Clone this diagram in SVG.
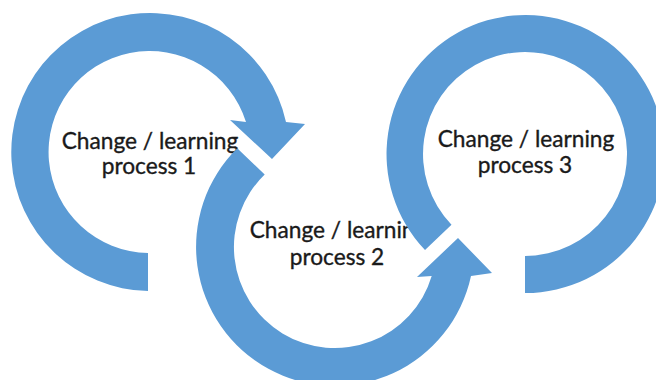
<svg xmlns="http://www.w3.org/2000/svg" width="656" height="380" viewBox="0 0 656 380">
<style>
.band{fill:#5B9BD5;stroke:none}
.lbl{font-family:Lato,"Liberation Sans",sans-serif;font-size:22.7px;fill:#1a1a1a;stroke:#1a1a1a;stroke-width:0.35;text-anchor:middle}
</style>
<defs>
<clipPath id="clip2"><rect x="0" y="0" width="410" height="380"/></clipPath>
</defs>
<rect width="656" height="380" fill="#ffffff"/>
<g id="node1">
<path class="band" d="M148,291 A139,139 0 1 1 286,122 L305,124 L272,159 L230,120 L246,122 A101,101 0 1 0 148,253 Z"/>
<text class="lbl" x="150" y="148.5">Change / learning</text>
<text class="lbl" x="149" y="174">process 1</text>
</g>
<g id="node2">
<path class="band" d="M237.2,148.2 A139,139 0 1 0 471,276 L492,273 L458,238 L417,277 L431.7,276 A101,101 0 1 1 264.7,174.5 Z"/>
<g clip-path="url(#clip2)">
<text class="lbl" x="338" y="238">Change / learning</text>
</g>
<text class="lbl" x="337" y="265">process 2</text>
</g>
<g id="node3">
<path class="band" d="M525,293 A139,139 0 1 0 425,250 L451.5,224.7 A102,102 0 1 1 525,256 Z"/>
<text class="lbl" x="526" y="147">Change / learning</text>
<text class="lbl" x="525" y="173">process 3</text>
</g>
<g id="connectors"></g>
</svg>
